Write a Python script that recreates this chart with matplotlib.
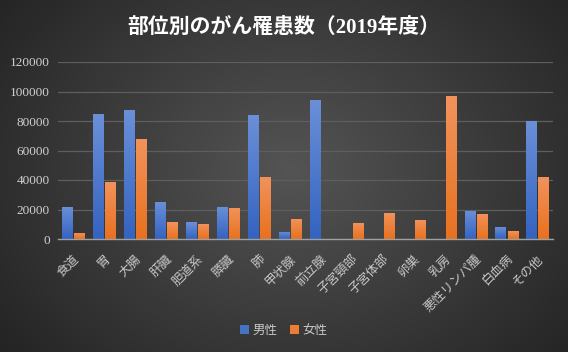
import numpy as np
import matplotlib.pyplot as plt
from matplotlib.colors import LinearSegmentedColormap

plt.rcParams['font.family'] = ['Liberation Serif', 'Noto Sans CJK JP']

categories = ['食道', '胃', '大腸', '肝臓', '胆道系', '膵臓', '肺', '甲状腺', '前立腺',
              '子宮頸部', '子宮体部', '卵巣', '乳房', '悪性リンパ腫', '白血病', 'その他']
male = [21700, 84900, 87600, 25100, 11500, 21700, 84200, 4750, 94400,
        0, 0, 0, 0, 19000, 8150, 80100]
female = [4100, 38700, 67900, 11500, 10200, 21100, 42100, 13600, 0,
          10900, 17700, 12900, 97100, 17000, 5400, 42100]
yticks = [0, 20000, 40000, 60000, 80000, 100000, 120000]

fig = plt.figure(figsize=(5.68, 3.52), dpi=100)

# radial gradient background
bg = fig.add_axes([0, 0, 1, 1], zorder=-10)
yy, xx = np.mgrid[0:352, 0:568]
r = np.sqrt(((xx - 290) / 330.0) ** 2 + ((yy - 170) / 260.0) ** 2)
shade = np.clip(0.33 - 0.17 * r, 0.13, 0.33)
bg.imshow(np.dstack([shade] * 3), aspect='auto', extent=[0, 1, 0, 1])
bg.axis('off')

ax = fig.add_axes([58 / 568, 1 - 239 / 352, 495 / 568, 177 / 352])
ax.set_facecolor('none')

x = np.arange(len(categories))
w = 0.33
b1 = ax.bar(x - 0.195, male, w, color='#4472C4', label='男性', zorder=3)
b2 = ax.bar(x + 0.195, female, w, color='#ED7D31', label='女性', zorder=3)

# vertical gradient on each bar (lighter at top)
grad = np.linspace(1, 0, 100).reshape(-1, 1)
cm_blue = LinearSegmentedColormap.from_list('b', ['#3463c0', '#6b90d8'])
cm_orng = LinearSegmentedColormap.from_list('o', ['#e8711f', '#f2935c'])
for bars, cm in [(b1, cm_blue), (b2, cm_orng)]:
    for p in bars:
        h = p.get_height()
        if h <= 0:
            continue
        x0 = p.get_x()
        im = ax.imshow(grad, cmap=cm, aspect='auto', zorder=4,
                       extent=[x0, x0 + p.get_width(), 0, h])
        im.set_clip_path(p)

ax.set_xlim(-0.5, len(categories) - 0.5)
ax.set_ylim(0, 120000)
ax.set_yticks(yticks)
ax.set_yticklabels([str(v) for v in yticks], color='#d0d0d0', fontsize=9.5)
ax.tick_params(axis='y', length=0, pad=6)
ax.tick_params(axis='x', length=0, pad=10)
ax.set_xticks(x)
ax.set_xticklabels(categories, rotation=45, ha='right', rotation_mode='anchor',
                   color='#c8c8c8', fontsize=9)
ax.yaxis.grid(True, color='#5e5e5e', linewidth=0.9, zorder=0)
for s in ['top', 'right', 'left']:
    ax.spines[s].set_visible(False)
ax.spines['bottom'].set_color('#a0a0a0')
ax.spines['bottom'].set_linewidth(1.0)
ax.spines['bottom'].set_zorder(5)

fig.text(0.5, 1 - 28 / 352, '部位別のがん罹患数（2019年度）', ha='center', va='center',
         color='white', fontsize=15, fontweight='bold')

leg = fig.legend(loc='center', bbox_to_anchor=(0.5, 1 - 331 / 352), ncol=2,
                 frameon=False, fontsize=9, handlelength=0.7, handleheight=0.7,
                 handletextpad=0.3, columnspacing=1.0)
for t in leg.get_texts():
    t.set_color('#c8c8c8')

fig.savefig('out.png', dpi=100)
